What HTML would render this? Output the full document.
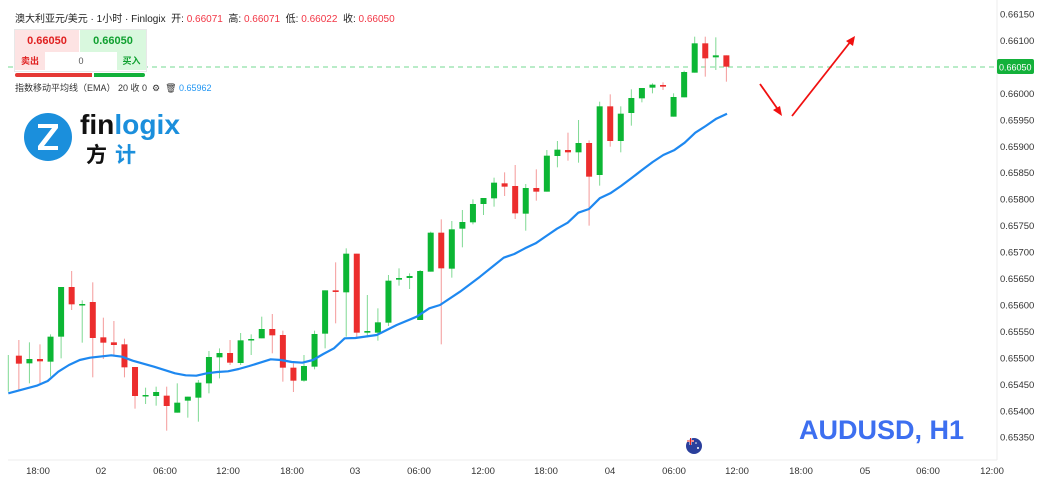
<!DOCTYPE html>
<html><head><meta charset="utf-8">
<style>
html,body{margin:0;padding:0;background:#fff;width:1038px;height:500px;overflow:hidden;font-family:"Liberation Sans","Noto Sans CJK SC",sans-serif;}
#wrap{position:relative;width:1038px;height:500px;}
svg{position:absolute;left:0;top:0;}
.hdr{position:absolute;left:15px;top:10px;font-size:10px;color:#222;white-space:nowrap;}
.hdr .r{color:#f23645;}
.box{position:absolute;left:14px;top:29px;width:131px;height:41px;border:1px solid #e8e8e8;background:#fff;}
.sell{position:absolute;left:0;top:0;width:64px;height:22px;background:#fde3e3;color:#e02020;font-weight:bold;font-size:11px;text-align:center;line-height:22px;}
.buy{position:absolute;left:65px;top:0;width:66px;height:22px;background:#d9f8de;color:#10a030;font-weight:bold;font-size:11px;text-align:center;line-height:22px;}
.sl{position:absolute;left:0;top:22px;width:30px;height:18px;background:#fde3e3;color:#e02020;font-weight:bold;font-size:9px;text-align:center;line-height:18px;}
.bl{position:absolute;left:102px;top:22px;width:29px;height:18px;background:#d9f8de;color:#10a030;font-weight:bold;font-size:9px;text-align:center;line-height:18px;}
.mid{position:absolute;left:30px;top:22px;width:72px;height:18px;color:#555;font-size:9px;text-align:center;line-height:18px;}
.ema{position:absolute;left:15px;top:81px;font-size:9px;color:#333;white-space:nowrap;}
</style></head><body><div id="wrap">
<svg id="s" width="1038" height="500" xmlns="http://www.w3.org/2000/svg"></svg>
<div class="hdr">澳大利亚元/美元 · 1小时 · Finlogix &nbsp;开: <span class="r">0.66071</span> &nbsp;高: <span class="r">0.66071</span> &nbsp;低: <span class="r">0.66022</span> &nbsp;收: <span class="r">0.66050</span></div>
<div class="box"><div class="sell">0.66050</div><div class="buy">0.66050</div><div class="sl">卖出</div><div class="mid">0</div><div class="bl">买入</div></div>
<div style="position:absolute;left:15px;top:73px;width:77px;height:4px;background:#e53935;border-radius:2px 0 0 2px"></div>
<div style="position:absolute;left:94px;top:73px;width:51px;height:4px;background:#13b13a;border-radius:0 2px 2px 0"></div>
<div class="ema">指数移动平均线（EMA） 20 收 0 &nbsp;⚙ &nbsp;🗑 <span style="color:#2196f3">0.65962</span></div>
</div>
<script>
var s=document.getElementById('s');var h='';
h+='<line x1="997" y1="0" x2="997" y2="460" stroke="#eee"/>';
h+='<line x1="8" y1="460" x2="997" y2="460" stroke="#eee"/>';
var pl=['0.66150','0.66100','0.66050','0.66000','0.65950','0.65900','0.65850','0.65800','0.65750','0.65700','0.65650','0.65600','0.65550','0.65500','0.65450','0.65400','0.65350'];
for(var i=0;i<pl.length;i++){if(i==2)continue;h+='<text x="1000" y="'+(17.5+i*26.45)+'" font-size="9.5" fill="#333">'+pl[i]+'</text>';}
var tl=[[38,'18:00'],[101,'02'],[165,'06:00'],[228,'12:00'],[292,'18:00'],[355,'03'],[419,'06:00'],[483,'12:00'],[546,'18:00'],[610,'04'],[674,'06:00'],[737,'12:00'],[801,'18:00'],[865,'05'],[928,'06:00'],[992,'12:00']];
tl.forEach(function(t){h+='<text x="'+t[0]+'" y="474" font-size="9.5" fill="#333" text-anchor="middle">'+t[1]+'</text>';});
h+='<line x1="8" y1="67" x2="997" y2="67" stroke="#8fe0a6" stroke-width="1.2" stroke-dasharray="5,4"/>';
h+='<rect x="997" y="59" width="37" height="15" rx="2" fill="#13b13a"/><text x="999" y="70.5" font-size="9" fill="#fff">0.66050</text>';
var A=[['g',355,380,345,455],['r',347,371,300,452],['g',357,370,307,430],['r',357,364,313,435],['g',290,365,283,410],['g',141,290,141,355],['r',141,193,93,210],['g',192,195,181,308],['r',186,294,127,412],['r',292,308,233,357],['r',307,315,243,345],['r',313,382,296,412],['r',381,468,381,506],['g',465,469,443,492],['g',456,468,440,497],['r',467,498,440,572],['g',488,518,430,518],['g',470,482,470,533],['g',428,473,420,545],['g',351,430,333,460],['g',339,352,325,415],['r',339,368,300,375],['g',301,369,279,375],['g',297,301,283,345],['g',267,295,230,295],['r',267,286,222,340],['r',285,383,272,425],['r',383,422,370,456],['g',378,422,345,425],['g',282,380,272,388],['g',151,281,151,325],['r',151,156,67,250],['g',41,157,25,290]];
var B=[['r',671,908,671,925],['g',903,908,795,922],['g',877,908,835,932],['g',752,878,735,888],['g',744,749,715,767],['g',738,744,730,777],['g',723,870,720,870],['g',608,725,605,725],['r',608,715,568,943],['g',598,716,573,743],['g',576,596,540,652],['g',522,577,508,583],['g',504,522,504,555],['g',458,505,443,530],['r',460,470,427,498],['r',468,550,405,567],['g',474,551,462,602],['r',474,485,418,512],['g',377,485,360,485],['g',359,378,333,412],['r',360,367,308,392],['g',339,367,270,398],['r',339,440,331,587],['g',229,435,215,467],['r',229,333,193,350],['g',251,333,229,367],['g',204,249,178,287],['g',174,205,174,217],['g',164,173,160,190],['r',165,170,157,180],['g',201,260,190,260],['g',126,202,122,202],['g',40,128,20,128],['r',40,85,20,140],['g',76,82,22,120],['r',76,110,76,155]];
var C=[];A.forEach(function(c){C.push([c[0],240+c[1]/3,240+c[2]/3,240+c[3]/3,240+c[4]/3]);});
B.forEach(function(c){C.push([c[0],30+c[1]/3,30+c[2]/3,30+c[3]/3,30+c[4]/3]);});
C.forEach(function(c,n){var x=8.3+n*10.56;var col=c[0]=='g'?'#0cb634':'#ec2d2d';var wc=c[0]=='g'?'#7fd993':'#f49a9a';
h+='<line x1="'+x+'" y1="'+c[3]+'" x2="'+x+'" y2="'+c[4]+'" stroke="'+wc+'" stroke-width="1"/>';
var bh=Math.max(c[2]-c[1],1.5);if(n>0)h+='<rect x="'+(x-3)+'" y="'+c[1]+'" width="6" height="'+bh+'" fill="'+col+'"/>';});
var E1=[[25,460],[110,437],[143,423],[175,395],[207,375],[239,360],[270,353],[334,346],[366,350],[398,362],[462,380],[525,400],[557,406],[589,407],[620,400],[652,396],[684,394],[716,387],[748,378],[780,368],[812,358],[843,360],[875,366],[907,368],[939,360],[970,342],[1002,325],[1034,295],[1066,294]];
var E2=[[110,915],[170,885],[230,860],[268,835],[300,825],[360,785],[420,740],[460,708],[491,683],[523,672],[555,655],[587,640],[619,618],[651,596],[683,578],[715,548],[747,537],[779,505],[811,490],[843,468],[874,445],[906,420],[938,396],[970,375],[1002,361],[1034,338],[1066,308],[1097,288],[1129,266],[1161,251]];
var p=[];E1.forEach(function(e){p.push((e[0]/3).toFixed(1)+','+(240+e[1]/3).toFixed(1));});
E2.forEach(function(e){p.push((340+e[0]/3).toFixed(1)+','+(30+e[1]/3).toFixed(1));});
h+='<polyline points="'+p.join(' ')+'" fill="none" stroke="#1e88f0" stroke-width="2.2" stroke-linejoin="round"/>';
h+='<line x1="760" y1="84" x2="779" y2="111" stroke="#f01010" stroke-width="1.8"/><polygon points="782,116 773,110 780,106" fill="#f01010"/>';
h+='<line x1="792" y1="116" x2="851" y2="41" stroke="#f01010" stroke-width="1.8"/><polygon points="855,36 853,46 846,41" fill="#f01010"/>';
h+='<circle cx="694" cy="446" r="8" fill="#2a3f9c"/><line x1="687" y1="441" x2="694" y2="441" stroke="#fff" stroke-width="2"/><line x1="690.5" y1="438" x2="690.5" y2="445" stroke="#fff" stroke-width="2"/><line x1="687" y1="441" x2="694" y2="441" stroke="#e02020" stroke-width="1"/><line x1="690.5" y1="438" x2="690.5" y2="445" stroke="#e02020" stroke-width="1"/><circle cx="698" cy="448" r="1" fill="#fff"/><circle cx="696" cy="443" r="0.8" fill="#fff"/>';
h+='<text x="799" y="439" font-size="27" font-weight="bold" fill="#3d6ff0" font-family="Liberation Sans,sans-serif">AUDUSD, H1</text>';
h+='<circle cx="48" cy="137" r="24" fill="#1b8fdc"/><path d="M38,124 L58,124 L58,128 L44,146 L58,146 L58,150 L38,150 L38,146 L52,128 L38,128 Z" fill="#fff"/>';
h+='<text x="80" y="134" font-size="28" font-weight="bold" fill="#111" font-family="Liberation Sans,sans-serif" textLength="100" lengthAdjust="spacingAndGlyphs">fin<tspan fill="#1b8fdc">logix</tspan></text>';
h+='<text x="86" y="162" font-size="21" font-weight="bold" fill="#111" font-family="Noto Sans CJK SC,sans-serif">方</text><text x="115" y="162" font-size="21" font-weight="bold" fill="#1b8fdc" font-family="Noto Sans CJK SC,sans-serif">计</text>';
s.innerHTML=h;
</script>
</body></html>
